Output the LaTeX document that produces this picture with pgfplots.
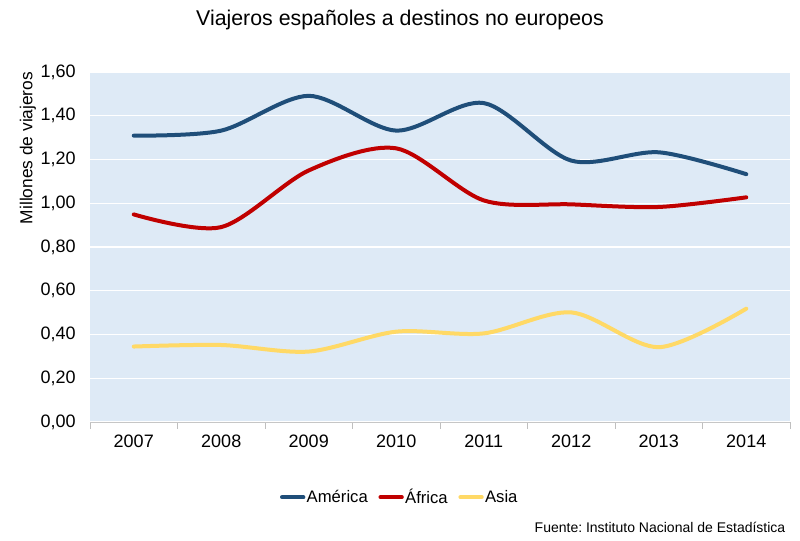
\documentclass[border=0pt]{standalone}
\usepackage{pgfplots}
\pgfplotsset{compat=1.18}
\usepackage{fontspec}
\setmainfont{Liberation Sans}
\frenchspacing
\definecolor{cAm}{HTML}{1F4E79}
\definecolor{cAf}{HTML}{C00000}
\definecolor{cAs}{HTML}{FFD966}
\definecolor{bgc}{HTML}{DEEAF6}
\begin{document}
\begin{tikzpicture}
\useasboundingbox ({-90*0.75pt},{-118*0.75pt}) rectangle ({710*0.75pt},{422*0.75pt});
\begin{axis}[
  at={(0,0)}, anchor=south west,
  scale only axis,
  width=525pt, height=262.5pt,
  xmin=-0.5, xmax=7.5, ymin=0, ymax=1.6,
  xtick={0,...,7},
  xticklabels={2007,2008,2009,2010,2011,2012,2013,2014},
  minor xtick={-0.5,0.5,...,7.5},
  major x tick style={draw=none},
  minor x tick style={draw=gray!50, line width=0.6pt},
  minor tick length=5pt,
  tick align=outside,
  ytick={0,0.2,...,1.6},
  major y tick style={draw=none},
  axis x line*=bottom,
  axis y line*=left,
  x axis line style={draw=gray!45, line width=0.6pt, -},
  y axis line style={draw=none},
  axis background/.style={fill=bgc},
  ymajorgrids,
  major grid style={draw=white, line width=0.9pt},
  /pgf/number format/.cd, fixed, fixed zerofill, precision=2, use comma, assume math mode=true,
  /pgfplots/.cd,
  tick label style={font=\fontsize{13.5}{15}\selectfont},
  yticklabel style={xshift=-3pt},
  xticklabel style={yshift=-2pt},
  legend style={at={(0.443,-0.215)}, anchor=center, draw=none, fill=none,
    legend columns=3, font=\fontsize{12.5}{14}\selectfont,
    /tikz/every even column/.append style={column sep=6pt},
    /tikz/every odd column/.append style={column sep=-1pt}},
  legend image code/.code={\draw[#1, line cap=round] (0pt,0pt) -- (16pt,0pt);},
]
\addplot[cAm, line width=3pt, smooth, tension=0.5, line cap=round] coordinates {
(0,1.309) (1,1.332) (2,1.491) (3,1.332) (4,1.458) (5,1.195) (6,1.233) (7,1.133)};
\addlegendentry{América}
\addplot[cAf, line width=3pt, smooth, tension=0.5, line cap=round] coordinates {
(0,0.949) (1,0.891) (2,1.150) (3,1.251) (4,1.013) (5,0.995) (6,0.983) (7,1.027)};
\addlegendentry{África}
\addplot[cAs, line width=3pt, smooth, tension=0.5, line cap=round] coordinates {
(0,0.345) (1,0.352) (2,0.322) (3,0.413) (4,0.405) (5,0.501) (6,0.342) (7,0.518)};
\addlegendentry{Asia}
\end{axis}
\node[rotate=90, font=\fontsize{13}{15}\selectfont] at ({-62*0.75pt},{274*0.75pt}) {Millones de viajeros};
\node[font=\fontsize{16}{19}\selectfont] at ({310*0.75pt},{402*0.75pt}) {Viajeros españoles a destinos no europeos};
\node[anchor=east, font=\fontsize{10.5}{12}\selectfont] at ({700*0.75pt},{-105*0.75pt}) {Fuente: Instituto Nacional de Estadística};
\end{tikzpicture}
\end{document}
